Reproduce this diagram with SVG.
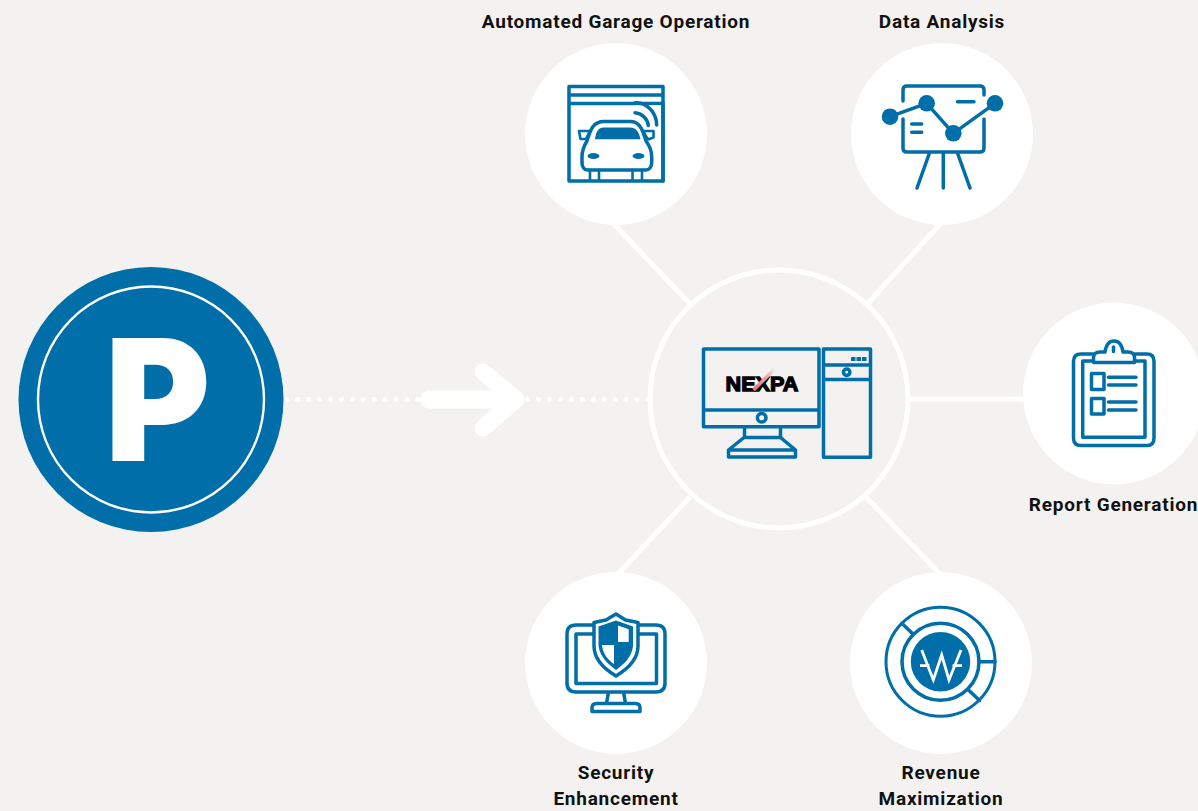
<svg xmlns="http://www.w3.org/2000/svg" width="1198" height="811" viewBox="0 0 1198 811">
<style>
.bubble{fill:#fff}
.ln{fill:none;stroke:#006ea8;stroke-width:3.5;stroke-linejoin:round;stroke-linecap:round}
.thin{stroke-width:2.6}
.fb{fill:#006ea8}
.conn{stroke:#fff;stroke-width:5;fill:none}
.lbl{font-family:"Roboto","Liberation Sans",sans-serif;font-weight:700;font-size:19px;fill:#111;text-anchor:middle;letter-spacing:.77px}
</style>
<defs><linearGradient id="slash" x1="0" y1="1" x2="1" y2="0"><stop offset="0" stop-color="#ee6a78"/><stop offset=".6" stop-color="#f3a0a8"/><stop offset="1" stop-color="#f3f2f0"/></linearGradient></defs>
<rect width="1198" height="811" fill="#f3f2f0"/>
<g id="connectors">
<path class="conn" d="M612 222L690 304M942 222L868 303M908 399H1028M690 497L618 574M866 497L940 574"/>
<path d="M286.700 399.500H424M527.700 399.500H650" fill="none" stroke="#fff" stroke-width="5" stroke-linecap="round" stroke-dasharray="0 10.93"/>
<path d="M429 399.500H515" fill="none" stroke="#fff" stroke-width="18" stroke-linecap="round"/>
<path d="M483 372L516 399.500L483 428" fill="none" stroke="#fff" stroke-width="17" stroke-linecap="round" stroke-linejoin="round"/>
</g>
<g id="parking">
<circle cx="151" cy="399.500" r="132.500" fill="#006ea8"/>
<circle cx="151" cy="399.500" r="113" fill="none" stroke="#fff" stroke-width="2.400"/>
<text transform="translate(112 461) scale(.95 1)" x="-7.400" y="0" font-family="Inter,'Liberation Sans',sans-serif" font-weight="900" font-size="169" fill="#fff">P</text>
</g>
<g id="center">
<circle cx="779" cy="399" r="129" fill="#f3f2f0" stroke="#fff" stroke-width="5"/>
<path class="ln" d="M703.500 349H819V426.700H703.500ZM703.500 410H819M744.500 426.700V437.500M780.500 426.700V437.500M744 437.500H780.500L795.500 450V457H728.500V450ZM729 450H795M823.500 349H870.500V457.300H823.500ZM823.500 365H870.500M823.500 379.500H870.500"/>
<circle class="ln" cx="761.700" cy="417.700" r="4.300"/>
<circle class="ln" cx="846.700" cy="372.300" r="3.200"/>
<path d="M851 359H855.500M856.500 359H861M862 359H866.500" stroke="#006ea8" stroke-width="4" fill="none"/>
<text x="725.500" y="391" font-family="'Liberation Sans',sans-serif" font-weight="700" font-size="21" textLength="73" lengthAdjust="spacingAndGlyphs" fill="#000" stroke="#000" stroke-width="1.300">NEXPA</text>
<path d="M753.500 390L775 368.500" stroke="url(#slash)" stroke-width="3.600" fill="none"/>
</g>
<g id="garage">
<circle class="bubble" cx="616" cy="134" r="91"/>
<path class="ln" d="M569 86.500H663V181H569ZM569 95H663M569 103.500H663"/>
<path d="M636 105.500H661V128H636Z" fill="#fff"/>
<path class="ln" d="M663 103V181M635 102.700C648 102 656.500 114 656.700 125M635 112.700C642 113 647.500 119 648.300 125.500"/>
<path class="ln thin" d="M579 131H590L586 139H580.500ZM643 131H653.500V137.500L648 139.500Z"/>
<path class="ln" d="M582 156.700C582 150 584.500 145 587 141C590 132 592 121.500 604 121.500H630C641 121.500 643 132 646 141C649 145 651.700 150 651.700 156.700V163C651.700 167 649 170 645 170H588C584.500 170 582 167 582 163Z" style="fill:#fff"/>
<path class="fb" d="M595 139.300C596 132 598 127.500 604 127.500H630C636 127.500 639 132 640.500 139.300Z"/>
<ellipse class="fb" cx="593.500" cy="156" rx="6" ry="3"/>
<ellipse class="fb" cx="638.500" cy="156" rx="6" ry="3"/>
<path class="ln thin" d="M590 170V180M599 170V180M632.500 170V180M642 170V180"/>
</g>
<g id="analysis">
<circle class="bubble" cx="942" cy="134" r="91"/>
<path class="ln" d="M903 101V90Q903 86 907 86H980Q984 86 984 90V95M984 119V148Q984 152 980 152H907Q903 152 903 148V119M957.500 101.700H974M911.700 124H921.700M911.700 132.300H921.700M929.500 153L917 188M943.300 153V188M957.500 153L970 188M890 116.700L926.700 103.300L953.300 133.300L995 103.300"/>
<circle class="fb" cx="890" cy="116.700" r="8.300"/>
<circle class="fb" cx="926.700" cy="103.300" r="8.300"/>
<circle class="fb" cx="953.300" cy="133.300" r="8.300"/>
<circle class="fb" cx="995" cy="103.300" r="8.300"/>
</g>
<g id="report">
<circle class="bubble" cx="1114" cy="393.500" r="91"/>
<path class="ln" d="M1093 354H1081Q1073.500 354 1073.500 361.500V438Q1073.500 445.500 1081 445.500H1147Q1154 445.500 1154 438V361.500Q1154 354 1147 354H1135M1093 361H1082.700V437.300H1145V361H1135M1093.500 362.500V357Q1094 352 1100 352H1105C1106 345 1109 341 1114 341S1122 345 1123 352H1128Q1134 352 1134.500 357V362.500ZM1113.500 347V351.500M1091.500 373.500H1104V389.500H1091.500ZM1091.500 398.500H1104V414H1091.500ZM1108.500 377.300H1136M1108.500 385H1136M1108.500 402H1136M1108.500 410H1136"/>
</g>
<g id="security">
<circle class="bubble" cx="616" cy="663" r="91"/>
<path class="ln" d="M594 625H576Q567 625 567 634V683Q567 692 576 692H656Q665 692 665 683V634Q665 625 656 625H638M594 634H576V683.500H656.500V634H638M608.500 692L606.500 703.500M623.500 692L625.500 703.500M596.500 703.500H635.500Q640 703.500 640 708V711.500H592V708Q592 703.500 596.500 703.500Z"/>
<path class="ln" d="M616 614L625.500 620L638 622.500V646C638 660 626 670 616 676C606 670 594 660 594 646V622.500L606 620Z" style="fill:#fff"/>
<path class="fb" d="M616 620.500L633 626.500V646C632 657 624 664 616 670C608 664 600 657 598.500 646V626.500Z"/>
<path d="M618 625.500L628.700 629.300V642H618ZM602 645H614V664C608 660 603 654 602 645Z" fill="#fff"/>
</g>
<g id="revenue">
<circle class="bubble" cx="941" cy="663" r="91"/>
<circle class="ln" cx="940.500" cy="661.700" r="54.500" style="stroke-width:3"/>
<circle class="ln" cx="940.500" cy="661.700" r="38.500"/>
<circle class="fb" cx="940.500" cy="661.700" r="29.700"/>
<path class="ln" d="M902 623.500L913 634M979 661.700H995M968.500 690L979.500 700.500"/>
<path d="M921.700 650L933.300 680L941.700 655L949 680L961 650M920 665.700H929.500M952.500 665.700H962" fill="none" stroke="#fff" stroke-width="2.800"/>
</g>
<g id="labels">
<text class="lbl" x="616" y="28">Automated Garage Operation</text>
<text class="lbl" x="942" y="27.500">Data Analysis</text>
<text class="lbl" x="1113.500" y="510.500">Report Generation</text>
<text class="lbl" x="616" y="779">Security</text>
<text class="lbl" x="616" y="805">Enhancement</text>
<text class="lbl" x="941" y="779">Revenue</text>
<text class="lbl" x="941" y="805">Maximization</text>
</g>
</svg>
